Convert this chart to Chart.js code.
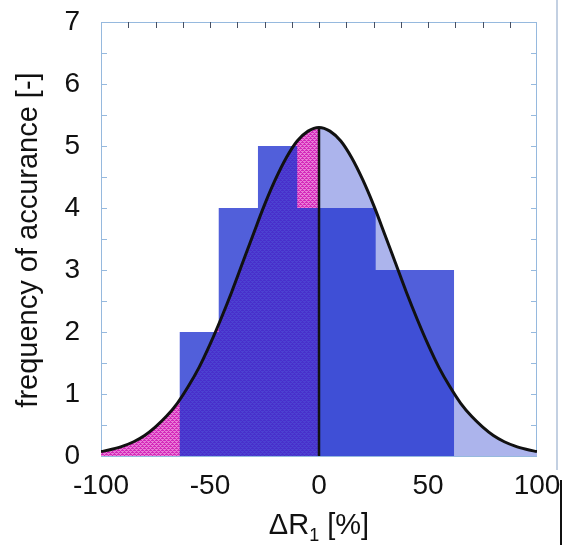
<!DOCTYPE html>
<html>
<head>
<meta charset="utf-8">
<script src="https://cdn.jsdelivr.net/npm/chart.js@4"></script>
<style>
  html, body { margin: 0; padding: 0; background: #fff; }
  #wrap { width: 563px; height: 549px; }
</style>
</head>
<body>
<div id="wrap"><canvas id="hist" width="563" height="549"></canvas></div>
<script>
// histogram bins of dR1 [%] and counts per bin
const binEdges = [-64, -46, -28, -10, 8, 26, 44, 62];
const counts = [2, 4, 5, 4, 4, 3, 3];

// fitted normal curve, sampled every 5 %
const curveX = [-100, -95, -90, -85, -80, -75, -70, -65, -60, -55, -50, -45, -40, -35, -30, -25, -20, -15, -10, -5,
  0, 5, 10, 15, 20, 25, 30, 35, 40, 45, 50, 55, 60, 65, 70, 75, 80, 85, 90, 95, 100];
const curveY = [0.07, 0.11, 0.16, 0.23, 0.33, 0.47, 0.64, 0.85, 1.12, 1.43, 1.80, 2.21, 2.65, 3.12, 3.59, 4.05, 4.46, 4.81, 5.08, 5.24,
  5.30, 5.24, 5.08, 4.81, 4.46, 4.05, 3.59, 3.12, 2.65, 2.21, 1.80, 1.43, 1.12, 0.85, 0.64, 0.47, 0.33, 0.23, 0.16, 0.11, 0.07];
const curvePeak = 5.30;

const xTicks = [-100, -50, 0, 50, 100];
const yTicks = [0, 1, 2, 3, 4, 5, 6, 7];

const FONT = '"Liberation Sans", Arial, sans-serif';

// dotted magenta fill for the left half of the curve
function makePinkPattern() {
  const c = document.createElement('canvas');
  c.width = 4; c.height = 4;
  const g = c.getContext('2d');
  g.fillStyle = 'rgb(232,125,214)';
  g.fillRect(0, 0, 4, 4);
  g.fillStyle = 'rgb(212,40,186)';
  [[0,0],[1,0],[2,1],[3,2],[2,2],[0,3],[1,2],[3,0]].forEach(p => g.fillRect(p[0], p[1], 1, 1));
  return g.createPattern(c, 'repeat');
}

const pts = curveX.map((x, i) => ({ x: x, y: curveY[i] }));
const leftArea = pts.filter(p => p.x <= 0);
const rightArea = pts.filter(p => p.x >= 0);

const histPts = counts.map((c, i) => ({ x: binEdges[i], y: c }));
histPts.push({ x: binEdges[binEdges.length - 1], y: counts[counts.length - 1] });

// frame, inward ticks and titles
const framePlugin = {
  id: 'frame',
  beforeDatasetsDraw(chart) {
    const { ctx, chartArea: a, scales: { x, y } } = chart;
    ctx.save();
    ctx.lineWidth = 1;
    ctx.strokeStyle = 'rgb(150,185,222)';
    ctx.strokeRect(a.left + 0.5, a.top + 0.5, a.right - a.left - 1, a.bottom - a.top);
    for (let v = 0.5; v < 7; v += 0.5) {
      const py = Math.round(y.getPixelForValue(v)) + 0.5;
      ctx.beginPath();
      ctx.moveTo(a.left, py); ctx.lineTo(a.left + 6, py);
      ctx.moveTo(a.right, py); ctx.lineTo(a.right - 6, py);
      ctx.stroke();
    }
    ctx.strokeStyle = 'rgb(70,80,100)';
    for (let v = -87.5; v < 100; v += 12.5) {
      const px = Math.round(x.getPixelForValue(v)) + 0.5;
      ctx.beginPath();
      ctx.moveTo(px, a.top); ctx.lineTo(px, a.top + 6);
      ctx.stroke();
    }
    ctx.restore();
  },
  afterDraw(chart) {
    const { ctx, chartArea: a } = chart;
    ctx.save();
    ctx.fillStyle = '#111';
    // y title
    ctx.font = '29px ' + FONT;
    ctx.textAlign = 'center';
    ctx.textBaseline = 'middle';
    ctx.translate(29, 240);
    ctx.rotate(-Math.PI / 2);
    ctx.fillText('frequency of accurance [-]', 0, 0);
    ctx.restore();

    // x title with subscript
    ctx.save();
    ctx.fillStyle = '#111';
    ctx.textBaseline = 'alphabetic';
    ctx.textAlign = 'left';
    const cx = (a.left + a.right) / 2;
    ctx.font = '29px ' + FONT;
    const w1 = ctx.measureText('\u0394R').width;
    const w3 = ctx.measureText(' [%]').width;
    ctx.font = '18px ' + FONT;
    const w2 = ctx.measureText('1').width;
    let sx = cx - (w1 + w2 + w3) / 2;
    const by = 534;
    ctx.font = '29px ' + FONT;
    ctx.fillText('\u0394R', sx, by);
    ctx.font = '18px ' + FONT;
    ctx.fillText('1', sx + w1, by + 7);
    ctx.font = '29px ' + FONT;
    ctx.fillText(' [%]', sx + w1 + w2, by);

    // page edge lines
    ctx.strokeStyle = 'rgb(195,208,226)';
    ctx.lineWidth = 2;
    ctx.beginPath(); ctx.moveTo(557, 0); ctx.lineTo(557, 470); ctx.stroke();
    ctx.strokeStyle = '#111';
    ctx.lineWidth = 2;
    ctx.beginPath(); ctx.moveTo(561, 480); ctx.lineTo(561, 545); ctx.stroke();
    ctx.restore();
  }
};

const ctx = document.getElementById('hist').getContext('2d');

new Chart(ctx, {
  type: 'line',
  data: {
    datasets: [
      {
        label: 'fit',
        data: pts,
        borderColor: '#111',
        borderWidth: 3,
        pointRadius: 0,
        cubicInterpolationMode: 'monotone',
        fill: false,
        order: 0
      },
      {
        label: 'mean',
        data: [{ x: 0, y: 0 }, { x: 0, y: curvePeak }],
        borderColor: '#111',
        borderWidth: 2.5,
        pointRadius: 0,
        fill: false,
        order: 1
      },
      {
        label: 'histogram',
        data: histPts,
        stepped: 'before',
        borderWidth: 0,
        borderColor: 'rgba(0,0,0,0)',
        backgroundColor: 'rgba(32,50,208,0.78)',
        pointRadius: 0,
        fill: 'origin',
        order: 2
      },
      {
        label: 'left',
        data: leftArea,
        borderWidth: 0,
        borderColor: 'rgba(0,0,0,0)',
        backgroundColor: makePinkPattern(),
        pointRadius: 0,
        cubicInterpolationMode: 'monotone',
        fill: 'origin',
        order: 3
      },
      {
        label: 'right',
        data: rightArea,
        borderWidth: 0,
        borderColor: 'rgba(0,0,0,0)',
        backgroundColor: 'rgb(172,180,236)',
        pointRadius: 0,
        cubicInterpolationMode: 'monotone',
        fill: 'origin',
        order: 4
      }
    ]
  },
  options: {
    responsive: false,
    animation: false,
    layout: { padding: { left: 0, right: 26, top: 22, bottom: 0 } },
    plugins: {
      legend: { display: false },
      tooltip: { enabled: false }
    },
    scales: {
      x: {
        type: 'linear',
        min: -100,
        max: 100,
        afterFit: s => { s.height = 93; s.paddingLeft = 0; s.paddingRight = 0; },
        afterBuildTicks: s => { s.ticks = xTicks.map(v => ({ value: v })); },
        grid: { display: false, drawTicks: false },
        border: { display: false },
        ticks: { font: { family: FONT, size: 28 }, color: '#111', padding: 13, maxRotation: 0 }
      },
      y: {
        min: 0,
        max: 7,
        afterFit: s => { s.width = 101; s.paddingTop = 0; s.paddingBottom = 0; },
        afterBuildTicks: s => { s.ticks = yTicks.map(v => ({ value: v })); },
        grid: { display: false, drawTicks: false },
        border: { display: false },
        ticks: { font: { family: FONT, size: 28 }, color: '#111', padding: 21 }
      }
    }
  },
  plugins: [framePlugin]
});
</script>
</body>
</html>
